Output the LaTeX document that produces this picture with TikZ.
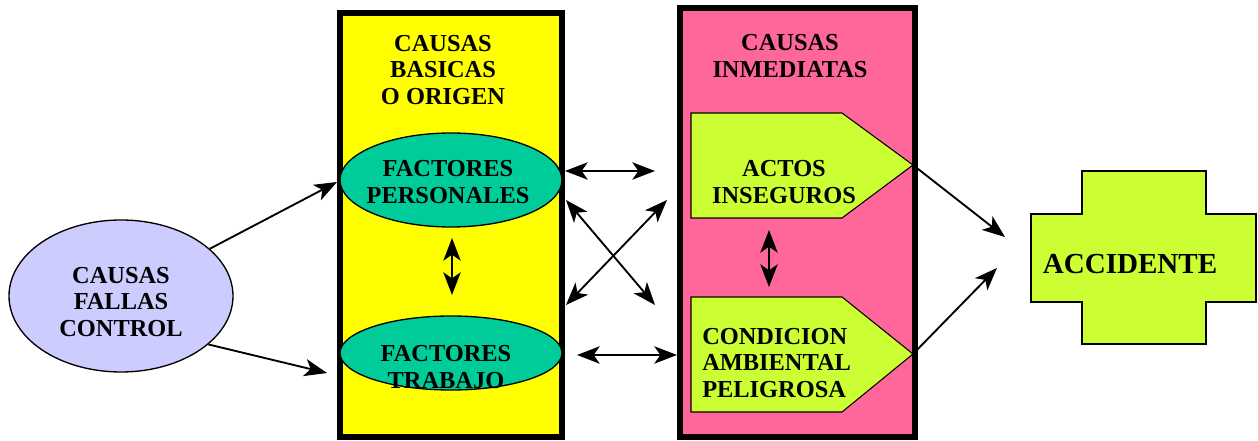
\documentclass[tikz,border=0pt]{standalone}
\usepackage{fontspec}
\setmainfont{Liberation Serif}
\usetikzlibrary{arrows.meta,shapes.geometric}
\definecolor{cfcfill}{HTML}{CCCCFF}
\definecolor{ybox}{HTML}{FFFF00}
\definecolor{pbox}{HTML}{FF6699}
\definecolor{gell}{HTML}{00CC99}
\definecolor{lime}{HTML}{CCFF33}
\tikzset{
  txt/.style={font=\bfseries\fontsize{18.3}{20.2}\selectfont, align=center, inner sep=0pt},
  ell/.style={ellipse, draw, line width=1pt, inner sep=0pt},
  bigbox/.style={draw, line width=4.5pt},
  conn/.style={line width=1.4pt, -{Stealth[length=17pt,width=13pt,inset=4.5pt]}},
  dconn/.style={line width=1.4pt, {Stealth[length=17pt,width=13pt,inset=4.5pt]}-{Stealth[length=17pt,width=13pt,inset=4.5pt]}},
}
\begin{document}
\begin{tikzpicture}[x=0.75pt,y=-0.75pt]
\useasboundingbox (0,0) rectangle (1258,441);
% big boxes
\draw[bigbox, fill=ybox] (340,13) rectangle (562,437);
\draw[bigbox, fill=pbox] (680,8) rectangle (915,437);
% left ellipse
\node[ell, fill=cfcfill, minimum width=168pt, minimum height=114pt] (cfc) at (121,296) {};
\node[txt] (cfct) at (121,302) {CAUSAS\\FALLAS\\CONTROL};
% yellow box content
\node[txt] (ytitle) at (443,70) {CAUSAS\\BASICAS\\O ORIGEN};
\node[ell, fill=gell, minimum width=166.5pt, minimum height=70.5pt] (fp) at (451,180) {};
\node[txt] (fpt) at (448,182) {FACTORES\\PERSONALES};
\node[ell, fill=gell, minimum width=166.5pt, minimum height=55.5pt] (ft) at (451,353) {};
\node[txt] (ftt) at (446,367) {FACTORES\\TRABAJO};
% pink box content
\node[txt] (ptitle) at (790,56) {CAUSAS\\INMEDIATAS};
\draw[line width=0.8pt, fill=lime] (691,113) -- (842,113) -- (913,165) -- (842,218) -- (691,218) -- cycle;
\coordinate (actip) at (913,165);
\node[txt] (act) at (784,182) {ACTOS\\INSEGUROS};
\draw[line width=0.8pt, fill=lime] (691,297) -- (842,297) -- (913,354) -- (842,412) -- (691,412) -- cycle;
\coordinate (cotip) at (913,354);
\node[txt, align=left, anchor=west] (cond) at (702,363) {CONDICION\\AMBIENTAL\\PELIGROSA};
% cross
\draw[line width=2pt, fill=lime] (1082,171) -- (1206,171) -- (1206,214) -- (1256,214) -- (1256,302) -- (1206,302) -- (1206,344) -- (1082,344) -- (1082,302) -- (1031,302) -- (1031,214) -- (1082,214) -- cycle;
\node[font=\bfseries\fontsize{21.8}{24}\selectfont, inner sep=0pt] (acc) at (1130,264) {ACCIDENTE};
% coordinates for free ends
\coordinate (e1) at (337,182);
\coordinate (e2) at (327,373);
\coordinate (v1a) at (452,238);
\coordinate (v1b) at (452,295);
\coordinate (h1a) at (565,171);
\coordinate (h1b) at (655,171);
\coordinate (x1a) at (566,200);
\coordinate (x1b) at (655,305);
\coordinate (x2a) at (566,305);
\coordinate (x2b) at (667,200);
\coordinate (h2a) at (577,355);
\coordinate (h2b) at (677,355);
\coordinate (v2a) at (769,230);
\coordinate (v2b) at (769,287);
\coordinate (a1) at (1005,237);
\coordinate (a2) at (997,268);
% connectors
\draw[conn] (cfc.28) -- (e1);
\draw[conn] (cfc.-29) -- (e2);
\draw[dconn] (v1a) -- (v1b);
\draw[dconn] (h1a) -- (h1b);
\draw[dconn] (x1a) -- (x1b);
\draw[dconn] (x2a) -- (x2b);
\draw[dconn] (h2a) -- (h2b);
\draw[dconn] (v2a) -- (v2b);
\draw[conn] (actip) -- (a1);
\draw[conn] (cotip) -- (a2);
\end{tikzpicture}
\end{document}
